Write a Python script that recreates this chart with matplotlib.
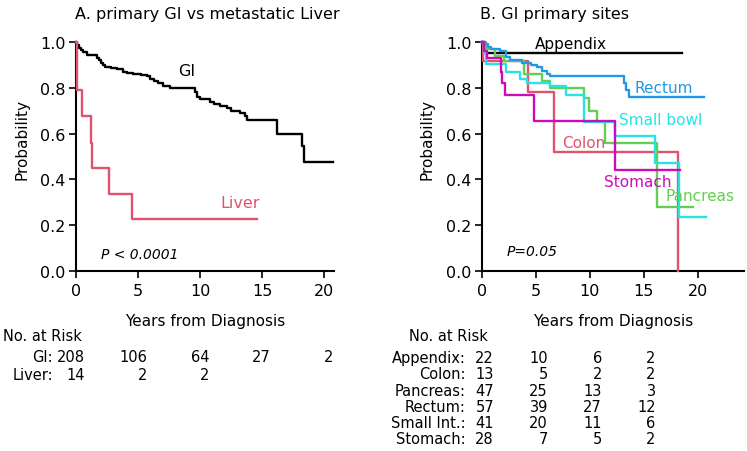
import numpy as np
import matplotlib
matplotlib.use("Agg")
import matplotlib.pyplot as plt
import matplotlib.transforms as mtransforms

plt.rcParams['font.family'] = ['DejaVu Sans']

# ---------------- Data ----------------
# Panel A: primary GI vs metastatic Liver (Kaplan-Meier step estimates)
gi_t = [0, 0.1, 0.25, 0.4, 0.6, 0.9, 1.7, 1.85, 2.0, 2.15, 2.3, 2.8, 3.3, 3.8, 4.1, 4.6,
        5.2, 5.7, 6.0, 6.3, 6.6, 7.0, 7.6, 9.6, 9.75, 10.0, 10.8, 11.1, 11.6, 12.2, 12.5,
        13.2, 13.6, 13.8, 16.2, 18.2, 18.4]
gi_s = [1.0, 0.985, 0.975, 0.965, 0.955, 0.943, 0.93, 0.92, 0.91, 0.90, 0.89, 0.885, 0.88,
        0.87, 0.865, 0.86, 0.855, 0.85, 0.84, 0.83, 0.82, 0.81, 0.80, 0.78, 0.76, 0.75, 0.74,
        0.73, 0.72, 0.71, 0.70, 0.69, 0.675, 0.66, 0.60, 0.545, 0.475]
gi_end = 20.75

liver_t = [0, 0.05, 0.12, 0.45, 1.2, 1.3, 2.65, 4.55]
liver_s = [1.0, 0.93, 0.79, 0.675, 0.56, 0.45, 0.335, 0.225]
liver_end = 14.6

# Panel B: GI primary sites
app_t = [0, 0.2]
app_s = [1.0, 0.95]
app_end = 18.55

colon_t = [0, 0.1, 4.3, 6.7, 18.15]
colon_s = [1.0, 0.915, 0.78, 0.52, 0.0]
colon_end = 18.15

panc_t = [0, 0.4, 1.2, 2.0, 3.86, 5.56, 6.34, 9.43, 9.9, 10.66, 11.4, 16.2]
panc_s = [1.0, 0.97, 0.94, 0.917, 0.86, 0.83, 0.80, 0.757, 0.70, 0.65, 0.56, 0.28]
panc_end = 19.6

rect_t = [0, 0.3, 0.6, 0.8, 1.7, 2.2, 2.6, 3.7, 4.5, 5.1, 5.6, 6.0, 6.34, 13.2, 13.4, 13.6]
rect_s = [1.0, 0.99, 0.98, 0.97, 0.96, 0.935, 0.92, 0.91, 0.90, 0.89, 0.875, 0.86, 0.85,
          0.82, 0.79, 0.76]
rect_end = 20.6

small_t = [0, 0.15, 0.4, 2.2, 3.5, 4.2, 6.3, 7.8, 9.5, 12.3, 16.0, 18.3]
small_s = [1.0, 0.95, 0.905, 0.87, 0.84, 0.82, 0.81, 0.77, 0.65, 0.59, 0.47, 0.235]
small_end = 20.8

stom_t = [0, 0.15, 0.5, 1.75, 1.9, 2.16, 4.8, 12.3]
stom_s = [1.0, 0.96, 0.93, 0.87, 0.82, 0.77, 0.655, 0.44]
stom_end = 18.4

# At-risk tables
risk_times = [0, 5, 10, 15, 20]
risk_A_labels = ["GI:", "Liver:"]
risk_A = [[208, 106, 64, 27, 2], [14, 2, 2]]
risk_B_labels = ["Appendix:", "Colon:", "Pancreas:", "Rectum:", "Small Int.:", "Stomach:"]
risk_B = [[22, 10, 6, 2], [13, 5, 2, 2], [47, 25, 13, 3], [57, 39, 27, 12],
          [41, 20, 11, 6], [28, 7, 5, 2]]

yticks = [0.0, 0.2, 0.4, 0.6, 0.8, 1.0]
xticks = [0, 5, 10, 15, 20]

PAL = {"black": "#000000", "pink": "#DF536B", "green": "#61D04F",
       "blue": "#2297E6", "cyan": "#28E2E5", "magenta": "#CD0BBC"}

# ---------------- Figure ----------------
W, H = 747, 452
fig = plt.figure(figsize=(W / 100, H / 100), dpi=100)

def px(x, y):
    return x / W, 1 - y / H

axA = fig.add_axes([76 / W, (H - 272) / H, (334 - 76) / W, (272 - 43) / H])
axB = fig.add_axes([482 / W, (H - 272) / H, (744 - 482) / W, (272 - 43) / H])

def style(ax, xmax):
    ax.set_xlim(0, xmax)
    ax.set_ylim(0, 1)
    for s in ["top", "right"]:
        ax.spines[s].set_visible(False)
    for s in ["left", "bottom"]:
        ax.spines[s].set_linewidth(1.5)
    ax.set_xticks(xticks)
    ax.set_yticks(yticks)
    ax.set_yticklabels([f"{v:.1f}" for v in yticks])
    ax.tick_params(axis="both", direction="out", length=5, width=1.2, labelsize=11.5)
    ax.tick_params(axis="x", pad=3.5)
    ax.tick_params(axis="y", pad=2.5)
    ax.text(-0.21, 0.58, "Probability", rotation=90, transform=ax.transAxes,
            ha="center", va="center", fontsize=11)
    ax.text(0.5, -0.214, "Years from Diagnosis", transform=ax.transAxes,
            ha="center", va="center", fontsize=11)

def km(ax, t, s, end, color):
    tt = list(t) + [end]
    ss = list(s) + [s[-1]]
    ax.step(tt, ss, where="post", color=color, lw=1.7, clip_on=False, zorder=3)

style(axA, 20.8)
style(axB, 24.3)

km(axA, gi_t, gi_s, gi_end, PAL["black"])
km(axA, liver_t, liver_s, liver_end, PAL["pink"])
axA.text(8.9, 0.875, "GI", ha="center", va="center", fontsize=11.5, color=PAL["black"])
axA.text(13.2, 0.30, "Liver", ha="center", va="center", fontsize=11.5, color=PAL["pink"])
axA.text(2.0, 0.073, "P < 0.0001", ha="left", va="center", fontsize=10, style="italic")

km(axB, app_t, app_s, app_end, PAL["black"])
km(axB, colon_t, colon_s, colon_end, PAL["pink"])
km(axB, panc_t, panc_s, panc_end, PAL["green"])
km(axB, rect_t, rect_s, rect_end, PAL["blue"])
km(axB, small_t, small_s, small_end, PAL["cyan"])
km(axB, stom_t, stom_s, stom_end, PAL["magenta"])
axB.text(8.2, 0.995, "Appendix", ha="center", va="center", fontsize=11, color=PAL["black"])
axB.text(16.9, 0.80, "Rectum", ha="center", va="center", fontsize=11, color=PAL["blue"])
axB.text(16.6, 0.66, "Small bowl", ha="center", va="center", fontsize=11, color=PAL["cyan"])
axB.text(9.4, 0.56, "Colon", ha="center", va="center", fontsize=11, color=PAL["pink"])
axB.text(14.4, 0.39, "Stomach", ha="center", va="center", fontsize=11, color=PAL["magenta"])
axB.text(20.2, 0.33, "Pancreas", ha="center", va="center", fontsize=11, color=PAL["green"])
axB.text(2.3, 0.087, "P=0.05", ha="left", va="center", fontsize=10, style="italic")

# Titles
fig.text(*px(75, 15), "A. primary GI vs metastatic Liver", ha="left", va="center", fontsize=11.5)
fig.text(*px(480, 15), "B. GI primary sites", ha="left", va="center", fontsize=11.5)

# At-risk tables
fig.text(*px(3, 337), "No. at Risk", ha="left", va="center", fontsize=10.5)
fig.text(*px(409, 337), "No. at Risk", ha="left", va="center", fontsize=10.5)

def risk_table(ax, labels, rows, label_x, y0, dy, xoff_px):
    trans = mtransforms.blended_transform_factory(ax.transData, fig.transFigure)
    trans = trans + mtransforms.ScaledTranslation(xoff_px / 100, 0, fig.dpi_scale_trans)
    for i, (lab, row) in enumerate(zip(labels, rows)):
        y = 1 - (y0 + i * dy) / H
        fig.text(label_x / W, y, lab, ha="right", va="center", fontsize=10.5)
        for t, n in zip(risk_times, row):
            ax.text(t, y, str(n), transform=trans, ha="right", va="center", fontsize=10.5)

risk_table(axA, risk_A_labels, risk_A, 53, 358, 17.5, 9)
risk_table(axB, risk_B_labels, risk_B, 466, 358.5, 16.3, 12)

fig.savefig("out.png", dpi=100)
